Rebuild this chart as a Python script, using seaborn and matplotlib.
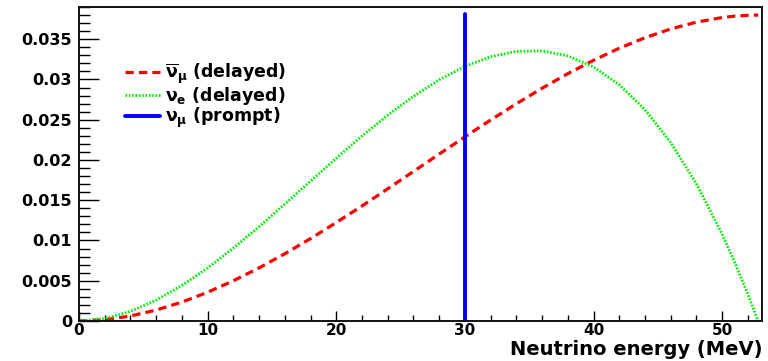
import numpy as np
import pandas as pd
import matplotlib
matplotlib.use("Agg")
import matplotlib.pyplot as plt
import seaborn as sns
from matplotlib.ticker import MultipleLocator

# Energies (MeV) at which the spectra were read
energy = [0, 2, 4, 6, 8, 10, 12, 14, 16, 18, 20, 22, 24, 26, 28, 30,
          32, 34, 36, 38, 40, 42, 44, 46, 48, 50, 51, 52, 52.8]
# anti-nu_mu (delayed) spectrum
numubar = [0.0, 0.00016, 0.00062, 0.00136, 0.00235, 0.00357, 0.00500, 0.00660,
           0.00835, 0.01024, 0.01223, 0.01429, 0.01642, 0.01857, 0.02073, 0.02287,
           0.02496, 0.02698, 0.02891, 0.03072, 0.03238, 0.03388, 0.03519, 0.03627,
           0.03712, 0.03769, 0.03787, 0.03797, 0.03800]
# nu_e (delayed) spectrum
nue = [0.0, 0.00031, 0.00120, 0.00260, 0.00442, 0.00659, 0.00905, 0.01172,
       0.01452, 0.01737, 0.02022, 0.02297, 0.02556, 0.02791, 0.02996, 0.03163,
       0.03282, 0.03349, 0.03355, 0.03293, 0.03156, 0.02935, 0.02625, 0.02217,
       0.01704, 0.01079, 0.00721, 0.00333, 0.0]
# nu_mu (prompt) monoenergetic line
prompt_energy = [30.0, 30.0]
prompt_value = [0.0, 0.0381]

labels = [r"$\overline{\nu}_{\mu}$ (delayed)", r"$\nu_{e}$ (delayed)", r"$\nu_{\mu}$ (prompt)"]

sns.set_style("white")
plt.rcParams['font.family'] = ['DejaVu Sans']
plt.rcParams['font.weight'] = 'bold'
plt.rcParams['text.color'] = 'black'
plt.rcParams['axes.labelcolor'] = 'black'
plt.rcParams['xtick.color'] = 'black'
plt.rcParams['ytick.color'] = 'black'
plt.rcParams['mathtext.fontset'] = 'custom'
plt.rcParams['mathtext.rm'] = 'DejaVu Sans:bold'
plt.rcParams['mathtext.it'] = 'DejaVu Sans:bold'
plt.rcParams['mathtext.bf'] = 'DejaVu Sans:bold'

fig = plt.figure(figsize=(7.68, 3.61), dpi=100)
ax = fig.add_axes([79/768, 1-321/361, (762-79)/768, (321-7)/361])

df_red = pd.DataFrame({"E": energy, "v": numubar})
df_green = pd.DataFrame({"E": energy, "v": nue})
df_blue = pd.DataFrame({"E": prompt_energy, "v": prompt_value})

sns.lineplot(data=df_red, x="E", y="v", ax=ax, color="#ff0000", lw=2.3,
             linestyle=(0, (2.6, 1.6)), label=labels[0], sort=False, estimator=None)
sns.lineplot(data=df_green, x="E", y="v", ax=ax, color="#00ee00", lw=2.0,
             linestyle=(0, (0.6, 0.6)), label=labels[1], sort=False, estimator=None)
sns.lineplot(data=df_blue, x="E", y="v", ax=ax, color="#0000ff", lw=2.8,
             label=labels[2], sort=False, estimator=None)

ax.set_xlim(0, 53.1)
ax.set_ylim(0, 0.039)
ax.xaxis.set_minor_locator(MultipleLocator(2))
ax.yaxis.set_minor_locator(MultipleLocator(0.001))
ax.set_yticks([0, 0.005, 0.01, 0.015, 0.02, 0.025, 0.03, 0.035])
ax.set_yticklabels(["0", "0.005", "0.01", "0.015", "0.02", "0.025", "0.03", "0.035"])
ax.set_xticks([0, 10, 20, 30, 40, 50])
ax.set_xticklabels(["0", "10", "20", "30", "40", "50"])

ax.tick_params(axis='y', which='major', direction='in', length=14.5, width=1.0,
               labelsize=11.5, pad=5, right=False, left=True, color='black')
ax.tick_params(axis='y', which='minor', direction='in', length=8, width=1.0,
               right=False, left=True, color='black')
ax.tick_params(axis='x', which='major', direction='in', length=7, width=1.0,
               labelsize=11, pad=1.5, top=False, bottom=True, color='black')
ax.tick_params(axis='x', which='minor', direction='in', length=4, width=1.0,
               top=False, bottom=True, color='black')
for lab in ax.get_xticklabels() + ax.get_yticklabels():
    lab.set_fontweight('bold')

for s in ax.spines.values():
    s.set_linewidth(1.4)
    s.set_color('#111111')

ax.set_xlabel("Neutrino energy (MeV)", fontsize=14, fontweight='bold', loc='right', labelpad=0)
ax.xaxis.set_label_coords(1.0, -0.062)
ax.xaxis.label.set_va('top')
ax.set_ylabel("")

leg = ax.legend(loc='upper left', bbox_to_anchor=((125-79)/683, (321-62)/314),
                frameon=False, handlelength=2.0, handletextpad=0.3,
                labelspacing=-0.08, borderpad=0, borderaxespad=0,
                prop={'weight': 'bold', 'size': 12.5})

fig.savefig("out.png", dpi=100)
